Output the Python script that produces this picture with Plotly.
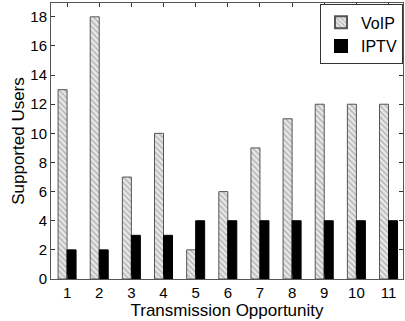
import plotly.graph_objects as go

categories = [1, 2, 3, 4, 5, 6, 7, 8, 9, 10, 11]
voip = [13, 18, 7, 10, 2, 6, 9, 11, 12, 12, 12]
iptv = [2, 2, 3, 3, 4, 4, 4, 4, 4, 4, 4]
y_ticks = [0, 2, 4, 6, 8, 10, 12, 14, 16, 18]

font = "Arial, Liberation Sans, sans-serif"

fig = go.Figure()
fig.add_trace(go.Bar(
    x=categories, y=voip, name="VoIP",
    marker=dict(color="white",
                line=dict(color="#555555", width=1),
                pattern=dict(shape="\\", fgcolor="#777777", bgcolor="#e8e8e8",
                             size=4, solidity=0.35)),
))
fig.add_trace(go.Bar(
    x=categories, y=iptv, name="IPTV",
    marker=dict(color="black", line=dict(color="black", width=1)),
))

fig.update_layout(
    width=405, height=321,
    margin=dict(l=51, r=2, t=3, b=42),
    paper_bgcolor="white", plot_bgcolor="white",
    barmode="group", bargap=0.44, bargroupgap=0,
    font=dict(family=font, size=15, color="black"),
    legend=dict(x=1.0, y=0.995, xanchor="right", yanchor="top",
                bordercolor="#333333", borderwidth=1, bgcolor="white",
                font=dict(size=16), itemsizing="constant", itemwidth=30,
                tracegroupgap=0),
    showlegend=True,
)
fig.update_xaxes(
    range=[0.5, 11.45], tickvals=categories,
    ticks="inside", ticklen=4, tickcolor="#333333",
    showline=True, linecolor="#555555", linewidth=1, mirror="ticks",
    showgrid=False, zeroline=False,
    tickfont=dict(size=15),
    title=dict(text="Transmission Opportunity", font=dict(size=17), standoff=0),
)
fig.update_yaxes(
    range=[0, 18.95], tickvals=y_ticks,
    ticks="inside", ticklen=4, tickcolor="#333333",
    showline=True, linecolor="#555555", linewidth=1, mirror="ticks",
    showgrid=False, zeroline=False,
    tickfont=dict(size=15),
    title=dict(text="Supported Users", font=dict(size=17), standoff=1),
)

fig.write_html(
    "out.html",
    config={"displayModeBar": False},
    post_script="document.body.style.margin='0';document.body.style.padding='0';",
)
